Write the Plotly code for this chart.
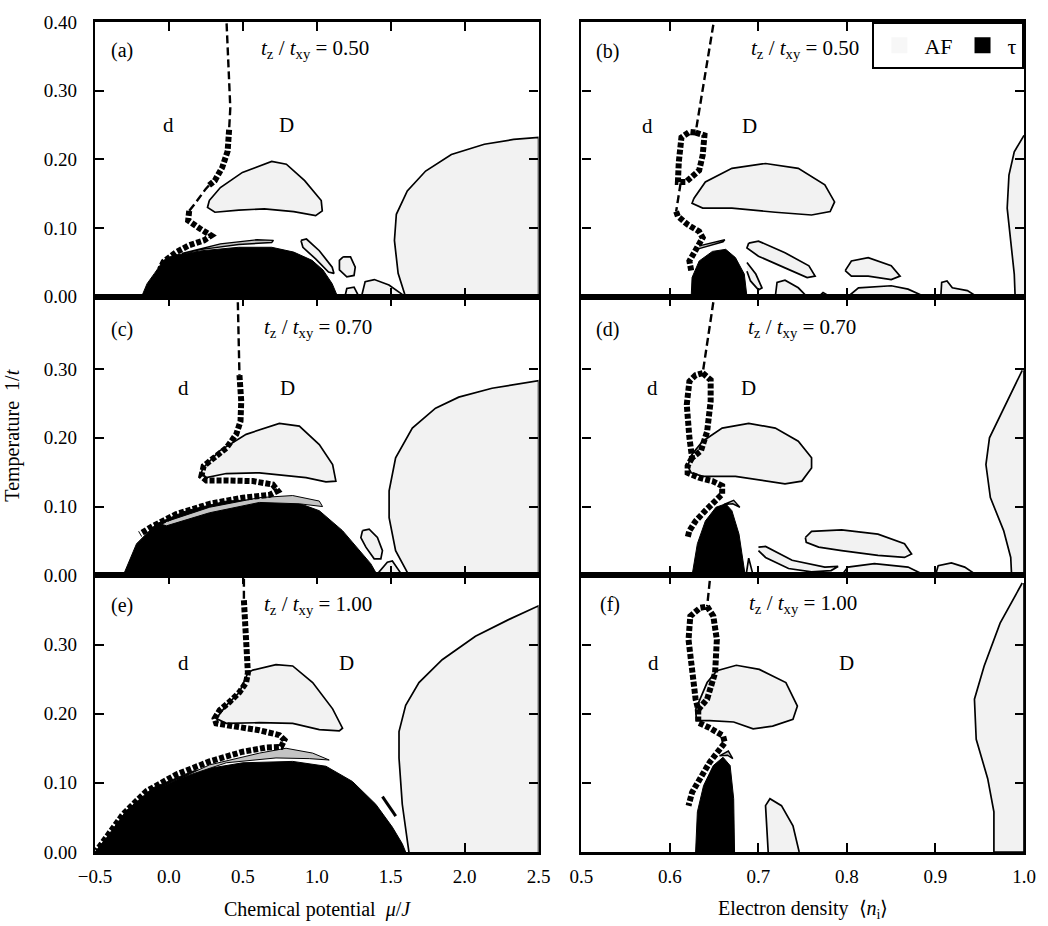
import plotly.graph_objects as go

# ---------------- tick values / labels ----------------
MU_TICKS = [-0.5, 0.0, 0.5, 1.0, 1.5, 2.0, 2.5]
MU_TICKTEXT = ["\u22120.5", "0.0", "0.5", "1.0", "1.5", "2.0", "2.5"]
N_TICKS = [0.5, 0.6, 0.7, 0.8, 0.9, 1.0]
N_TICKTEXT = ["0.5", "0.6", "0.7", "0.8", "0.9", "1.0"]
T_TICKS_TOP = [0.0, 0.1, 0.2, 0.3, 0.4]
T_TICKS = [0.0, 0.1, 0.2, 0.3]
PANEL_LETTERS = ["(a)", "(b)", "(c)", "(d)", "(e)", "(f)"]
RATIOS = ["0.50", "0.50", "0.70", "0.70", "1.00", "1.00"]

# ---------------- panel (a): mu axis, tz/txy = 0.50 ----------------
a_dash1_x = [0.39, 0.402, 0.415, 0.407]
a_dash1_y = [0.398, 0.347, 0.275, 0.243]
a_dot1_x = [0.407, 0.397, 0.36, 0.31, 0.27]
a_dot1_y = [0.243, 0.212, 0.188, 0.169, 0.162]
a_dash2_x = [0.27, 0.249, 0.174, 0.137]
a_dash2_y = [0.162, 0.157, 0.135, 0.125]
a_dot2_x = [0.137, 0.13, 0.211, 0.286, 0.236, 0.137, 0.05, -0.036, -0.06]
a_dot2_y = [0.125, 0.111, 0.099, 0.089, 0.082, 0.075, 0.065, 0.051, 0.04]
a_tau_x = [-0.185, -0.148, -0.098, -0.036, 0.026, 0.224, 0.472, 0.695, 0.844, 0.968, 1.042, 1.104, 1.141]
a_tau_y = [0, 0.019, 0.034, 0.053, 0.06, 0.067, 0.072, 0.072, 0.065, 0.053, 0.039, 0.019, 0]
a_sliver_x = [0.088, 0.348, 0.596, 0.707, 0.695, 0.472, 0.224, 0.088]
a_sliver_y = [0.063, 0.077, 0.083, 0.082, 0.079, 0.076, 0.069, 0.063]
a_isl1_x = [0.273, 0.348, 0.497, 0.695, 0.794, 0.918, 1.03, 1.037, 0.992, 0.844, 0.645, 0.472, 0.311, 0.261, 0.273]
a_isl1_y = [0.14, 0.159, 0.181, 0.197, 0.193, 0.169, 0.14, 0.125, 0.118, 0.124, 0.128, 0.126, 0.123, 0.13, 0.14]
a_isl2_x = [0.893, 0.93, 1.017, 1.104, 1.116, 1.079, 0.992, 0.906, 0.893]
a_isl2_y = [0.082, 0.084, 0.067, 0.043, 0.034, 0.036, 0.055, 0.072, 0.082]
a_isl3_x = [1.178, 1.228, 1.26, 1.252, 1.203, 1.153, 1.153, 1.178]
a_isl3_y = [0.058, 0.058, 0.043, 0.031, 0.029, 0.039, 0.053, 0.058]
a_isl4_x = [1.19, 1.203, 1.252, 1.285]
a_isl4_y = [0, 0.012, 0.014, 0]
a_isl5_x = [1.302, 1.327, 1.389, 1.488, 1.587, 1.6]
a_isl5_y = [0, 0.022, 0.025, 0.017, 0.002, 0]
a_big_x = [1.6, 1.55, 1.525, 1.538, 1.612, 1.736, 1.91, 2.133, 2.331, 2.5, 2.5]
a_big_y = [0, 0.034, 0.082, 0.12, 0.154, 0.183, 0.207, 0.222, 0.229, 0.232, 0]

# ---------------- panel (b): density axis, tz/txy = 0.50 ----------------
b_dash1_x = [0.649, 0.629]
b_dash1_y = [0.396, 0.239]
b_loop_x = [0.629, 0.639, 0.637, 0.633, 0.618, 0.609, 0.61, 0.613, 0.622, 0.629]
b_loop_y = [0.239, 0.235, 0.206, 0.184, 0.167, 0.167, 0.196, 0.232, 0.24, 0.239]
b_dash2_x = [0.612, 0.607]
b_dash2_y = [0.165, 0.124]
b_dot2_x = [0.607, 0.609, 0.62, 0.633, 0.637, 0.633, 0.627, 0.622, 0.624]
b_dot2_y = [0.124, 0.117, 0.105, 0.095, 0.086, 0.076, 0.062, 0.052, 0.038]
b_tau_x = [0.624, 0.625, 0.633, 0.648, 0.663, 0.674, 0.684, 0.687]
b_tau_y = [0, 0.028, 0.052, 0.066, 0.069, 0.057, 0.033, 0]
b_sliver_x = [0.633, 0.652, 0.662, 0.66, 0.645, 0.633]
b_sliver_y = [0.074, 0.08, 0.083, 0.08, 0.074, 0.07]
b_isl1_x = [0.627, 0.64, 0.67, 0.708, 0.745, 0.775, 0.786, 0.781, 0.76, 0.719, 0.67, 0.637, 0.625, 0.627]
b_isl1_y = [0.143, 0.167, 0.187, 0.194, 0.187, 0.163, 0.138, 0.124, 0.119, 0.123, 0.129, 0.129, 0.136, 0.143]
b_isl2_x = [0.689, 0.7, 0.73, 0.757, 0.764, 0.755, 0.73, 0.7, 0.687, 0.689]
b_isl2_y = [0.078, 0.081, 0.064, 0.045, 0.03, 0.028, 0.042, 0.059, 0.071, 0.078]
b_isl3_x = [0.687, 0.697, 0.704, 0.7, 0.691, 0.687]
b_isl3_y = [0.05, 0.033, 0.013, 0.01, 0.023, 0.037]
b_isl4_x = [0.719, 0.721, 0.73, 0.745, 0.755]
b_isl4_y = [0, 0.021, 0.024, 0.013, 0]
b_isl5_x = [0.768, 0.773, 0.781]
b_isl5_y = [0, 0.006, 0]
b_isl6_x = [0.798, 0.805, 0.824, 0.85, 0.86, 0.85, 0.824, 0.805, 0.798]
b_isl6_y = [0.038, 0.052, 0.057, 0.045, 0.03, 0.025, 0.03, 0.03, 0.038]
b_isl7_x = [0.801, 0.813, 0.85, 0.869, 0.888]
b_isl7_y = [0, 0.013, 0.016, 0.011, 0]
b_isl8_x = [0.906, 0.907, 0.913, 0.919, 0.936, 0.947]
b_isl8_y = [0, 0.021, 0.023, 0.013, 0.009, 0]
b_edge_x = [1.0, 0.989, 0.983, 0.981, 0.985, 0.989, 0.99, 1.0]
b_edge_y = [0.235, 0.211, 0.177, 0.129, 0.081, 0.033, 0, 0]

# ---------------- panel (c): mu axis, tz/txy = 0.70 ----------------
c_dash1_x = [0.466, 0.477]
c_dash1_y = [0.397, 0.291]
c_dot1_x = [0.477, 0.489, 0.484, 0.455, 0.388, 0.298, 0.235, 0.219, 0.253, 0.388, 0.567, 0.702, 0.736, 0.68, 0.5, 0.275, 0.05, -0.107, -0.197]
c_dot1_y = [0.291, 0.253, 0.224, 0.205, 0.185, 0.171, 0.159, 0.144, 0.138, 0.138, 0.137, 0.132, 0.123, 0.117, 0.113, 0.104, 0.089, 0.072, 0.06]
c_tau_x = [-0.309, -0.219, -0.084, 0.118, 0.388, 0.657, 0.837, 1.017, 1.174, 1.286, 1.365, 1.41]
c_tau_y = [0, 0.046, 0.075, 0.094, 0.108, 0.111, 0.108, 0.094, 0.065, 0.036, 0.017, 0]
c_sliver_x = [-0.062, 0.275, 0.612, 0.837, 1.017, 1.039, 0.882, 0.612, 0.275, -0.017, -0.062]
c_sliver_y = [0.075, 0.099, 0.113, 0.116, 0.108, 0.1, 0.104, 0.106, 0.091, 0.072, 0.075]
c_isl1_x = [0.23, 0.343, 0.522, 0.747, 0.882, 1.017, 1.107, 1.129, 1.062, 0.927, 0.612, 0.388, 0.253, 0.219, 0.23]
c_isl1_y = [0.156, 0.181, 0.205, 0.221, 0.217, 0.19, 0.161, 0.137, 0.136, 0.142, 0.149, 0.148, 0.142, 0.149, 0.156]
c_isl2_x = [1.309, 1.354, 1.41, 1.444, 1.433, 1.388, 1.332, 1.298, 1.309]
c_isl2_y = [0.065, 0.067, 0.055, 0.036, 0.024, 0.024, 0.041, 0.055, 0.065]
c_isl3_x = [1.41, 1.421, 1.477, 1.511, 1.578]
c_isl3_y = [0, 0.005, 0.019, 0.021, 0]
c_big_x = [1.623, 1.533, 1.489, 1.489, 1.533, 1.646, 1.803, 1.96, 2.185, 2.5, 2.5]
c_big_y = [0, 0.036, 0.084, 0.123, 0.171, 0.214, 0.243, 0.259, 0.272, 0.283, 0]

# ---------------- panel (d): density axis, tz/txy = 0.70 ----------------
d_dash1_x = [0.649, 0.637]
d_dash1_y = [0.397, 0.294]
d_loop_x = [0.637, 0.646, 0.646, 0.642, 0.635, 0.625, 0.622, 0.619, 0.622, 0.629, 0.637]
d_loop_y = [0.294, 0.284, 0.253, 0.209, 0.181, 0.171, 0.2, 0.248, 0.282, 0.291, 0.294]
d_dot2_x = [0.625, 0.62, 0.62, 0.633, 0.648, 0.659, 0.659, 0.652, 0.64, 0.629, 0.622, 0.62]
d_dot2_y = [0.171, 0.159, 0.149, 0.142, 0.137, 0.13, 0.118, 0.108, 0.094, 0.079, 0.065, 0.055]
d_tau_x = [0.625, 0.631, 0.64, 0.652, 0.663, 0.67, 0.678, 0.685]
d_tau_y = [0, 0.046, 0.079, 0.099, 0.104, 0.094, 0.06, 0]
d_hook_x = [0.661, 0.672, 0.679, 0.671, 0.661]
d_hook_y = [0.103, 0.109, 0.099, 0.104, 0.103]
d_isl1_x = [0.62, 0.625, 0.637, 0.659, 0.689, 0.719, 0.745, 0.76, 0.76, 0.749, 0.73, 0.708, 0.674, 0.637, 0.624, 0.62]
d_isl1_y = [0.159, 0.176, 0.195, 0.214, 0.221, 0.214, 0.195, 0.171, 0.156, 0.137, 0.133, 0.137, 0.144, 0.144, 0.149, 0.159]
d_isl2_x = [0.753, 0.76, 0.794, 0.835, 0.865, 0.873, 0.865, 0.835, 0.794, 0.768, 0.754, 0.753]
d_isl2_y = [0.055, 0.064, 0.066, 0.06, 0.046, 0.031, 0.026, 0.029, 0.036, 0.041, 0.048, 0.055]
d_isl3_x = [0.7, 0.708, 0.738, 0.775, 0.79, 0.782, 0.76, 0.734, 0.708, 0.7]
d_isl3_y = [0.041, 0.042, 0.022, 0.012, 0.013, 0.007, 0.005, 0.01, 0.026, 0.036]
d_isl4_x = [0.794, 0.801, 0.831, 0.869, 0.888]
d_isl4_y = [0, 0.012, 0.017, 0.012, 0]
d_isl5_x = [0.9, 0.903, 0.918, 0.933, 0.947]
d_isl5_y = [0, 0.014, 0.018, 0.012, 0]
d_isl6_x = [0.686, 0.689, 0.694]
d_isl6_y = [0, 0.025, 0]
d_edge_x = [0.998, 0.977, 0.961, 0.957, 0.962, 0.977, 0.985, 0.986, 1.0, 1.0]
d_edge_y = [0.298, 0.243, 0.2, 0.161, 0.113, 0.065, 0.026, 0, 0, 0.298]

# ---------------- panel (e): mu axis, tz/txy = 1.00 ----------------
e_dash1_x = [0.507, 0.507]
e_dash1_y = [0.395, 0.364]
e_dot1_x = [0.507, 0.522, 0.534, 0.522, 0.477, 0.41, 0.343, 0.309, 0.32, 0.432, 0.612, 0.747, 0.781, 0.758, 0.657, 0.5, 0.275, 0.05, -0.152, -0.309, -0.421, -0.489]
e_dot1_y = [0.364, 0.307, 0.259, 0.245, 0.231, 0.217, 0.205, 0.193, 0.186, 0.182, 0.176, 0.169, 0.162, 0.152, 0.151, 0.145, 0.131, 0.112, 0.088, 0.055, 0.021, 0.002]
e_tau_x = [-0.5, -0.421, -0.287, -0.107, 0.163, 0.5, 0.837, 1.062, 1.241, 1.399, 1.511, 1.578, 1.601]
e_tau_y = [0, 0.021, 0.06, 0.093, 0.117, 0.129, 0.131, 0.124, 0.102, 0.069, 0.036, 0.012, 0]
e_sliver_x = [-0.062, 0.275, 0.612, 0.792, 0.972, 1.084, 0.949, 0.724, 0.388, 0.05, -0.062]
e_sliver_y = [0.093, 0.126, 0.143, 0.15, 0.143, 0.133, 0.135, 0.136, 0.129, 0.105, 0.093]
e_line_x = [1.444, 1.534]
e_line_y = [0.08, 0.052]
e_isl1_x = [0.32, 0.388, 0.477, 0.534, 0.567, 0.724, 0.837, 0.972, 1.107, 1.174, 1.152, 1.017, 0.837, 0.612, 0.388, 0.32]
e_isl1_y = [0.193, 0.212, 0.231, 0.259, 0.263, 0.271, 0.269, 0.245, 0.207, 0.179, 0.175, 0.177, 0.186, 0.187, 0.186, 0.193]
e_big_x = [1.623, 1.578, 1.556, 1.556, 1.601, 1.691, 1.848, 2.073, 2.297, 2.5, 2.5]
e_big_y = [0, 0.069, 0.136, 0.174, 0.212, 0.245, 0.278, 0.312, 0.336, 0.356, 0]

# ---------------- panel (f): density axis, tz/txy = 1.00 ----------------
f_dash1_x = [0.645, 0.642]
f_dash1_y = [0.392, 0.355]
f_loop_x = [0.642, 0.649, 0.653, 0.651, 0.642, 0.632, 0.629, 0.625, 0.621, 0.623, 0.634, 0.642]
f_loop_y = [0.355, 0.341, 0.307, 0.259, 0.221, 0.206, 0.221, 0.259, 0.307, 0.341, 0.353, 0.355]
f_dot2_x = [0.632, 0.632, 0.644, 0.66, 0.662, 0.657, 0.645, 0.634, 0.625, 0.621]
f_dot2_y = [0.206, 0.187, 0.18, 0.168, 0.158, 0.149, 0.13, 0.106, 0.086, 0.067]
f_tau_x = [0.629, 0.631, 0.638, 0.649, 0.66, 0.668, 0.672, 0.673]
f_tau_y = [0, 0.058, 0.096, 0.125, 0.137, 0.125, 0.077, 0]
f_hook_x = [0.656, 0.666, 0.671, 0.665, 0.656]
f_hook_y = [0.139, 0.146, 0.135, 0.14, 0.139]
f_isl1_x = [0.629, 0.642, 0.653, 0.675, 0.701, 0.731, 0.744, 0.739, 0.716, 0.694, 0.672, 0.645, 0.63, 0.629]
f_isl1_y = [0.206, 0.245, 0.262, 0.27, 0.264, 0.245, 0.211, 0.192, 0.182, 0.178, 0.188, 0.19, 0.19, 0.206]
f_isl2_x = [0.711, 0.708, 0.713, 0.726, 0.739, 0.746]
f_isl2_y = [0, 0.067, 0.077, 0.067, 0.038, 0]
f_edge_x = [0.998, 0.973, 0.955, 0.944, 0.946, 0.959, 0.966, 0.966, 1.0, 1.0]
f_edge_y = [0.389, 0.331, 0.269, 0.221, 0.163, 0.106, 0.058, 0, 0, 0.389]

# text positions (data coords) of labels in each panel: letter, ratio, d, D
LETTER_POS = [(-0.32, 0.359), (0.53, 0.357), (-0.32, 0.358), (0.53, 0.358), (-0.32, 0.357), (0.532, 0.358)]
RATIO_POS = [(0.99, 0.361), (0.753, 0.36), (1.005, 0.359), (0.749, 0.359), (1.005, 0.357), (0.75, 0.358)]
SMALL_D_POS = [(-0.004, 0.25), (0.575, 0.249), (0.1, 0.272), (0.58, 0.272), (0.1, 0.274), (0.581, 0.274)]
BIG_D_POS = [(0.794, 0.25), (0.69, 0.249), (0.803, 0.272), (0.689, 0.272), (1.2, 0.274), (0.799, 0.274)]

# ---------------- style ----------------
FONT = "Liberation Serif"
AF_FILL = "#f2f2f2"
SLIVER_FILL = "#c4c4c4"

fig = go.Figure()


def ax(i):
    return ("x" if i == 1 else f"x{i}"), ("y" if i == 1 else f"y{i}")


def af(i, xs, ys, fill=AF_FILL, lw=1.7):
    xa, ya = ax(i)
    fig.add_trace(go.Scatter(x=xs, y=ys, xaxis=xa, yaxis=ya, mode="lines", fill="toself",
                             fillcolor=fill, line=dict(color="black", width=lw),
                             showlegend=False, hoverinfo="skip"))


def tau(i, xs, ys):
    xa, ya = ax(i)
    fig.add_trace(go.Scatter(x=xs, y=ys, xaxis=xa, yaxis=ya, mode="lines", fill="toself",
                             fillcolor="black", line=dict(color="black", width=1),
                             showlegend=False, hoverinfo="skip"))


def dashed(i, xs, ys):
    xa, ya = ax(i)
    fig.add_trace(go.Scatter(x=xs, y=ys, xaxis=xa, yaxis=ya, mode="lines",
                             line=dict(color="black", width=2.4, dash="8px,4px"),
                             showlegend=False, hoverinfo="skip"))


def dotted(i, xs, ys):
    xa, ya = ax(i)
    fig.add_trace(go.Scatter(x=xs, y=ys, xaxis=xa, yaxis=ya, mode="lines",
                             line=dict(color="black", width=6, dash="5px,2px"),
                             showlegend=False, hoverinfo="skip"))


def thin(i, xs, ys, w=3):
    xa, ya = ax(i)
    fig.add_trace(go.Scatter(x=xs, y=ys, xaxis=xa, yaxis=ya, mode="lines",
                             line=dict(color="black", width=w),
                             showlegend=False, hoverinfo="skip"))


# (a)
af(1, a_big_x, a_big_y)
for xs, ys in [(a_isl1_x, a_isl1_y), (a_isl2_x, a_isl2_y), (a_isl3_x, a_isl3_y),
               (a_isl4_x, a_isl4_y), (a_isl5_x, a_isl5_y)]:
    af(1, xs, ys)
tau(1, a_tau_x, a_tau_y)
af(1, a_sliver_x, a_sliver_y, SLIVER_FILL, 1.4)
dashed(1, a_dash1_x, a_dash1_y)
dotted(1, a_dot1_x, a_dot1_y)
dashed(1, a_dash2_x, a_dash2_y)
dotted(1, a_dot2_x, a_dot2_y)

# (b)
af(2, b_edge_x, b_edge_y)
for xs, ys in [(b_isl1_x, b_isl1_y), (b_isl2_x, b_isl2_y), (b_isl3_x, b_isl3_y),
               (b_isl4_x, b_isl4_y), (b_isl5_x, b_isl5_y), (b_isl6_x, b_isl6_y),
               (b_isl7_x, b_isl7_y), (b_isl8_x, b_isl8_y)]:
    af(2, xs, ys)
tau(2, b_tau_x, b_tau_y)
af(2, b_sliver_x, b_sliver_y, SLIVER_FILL, 1.4)
dashed(2, b_dash1_x, b_dash1_y)
dotted(2, b_loop_x, b_loop_y)
dashed(2, b_dash2_x, b_dash2_y)
dotted(2, b_dot2_x, b_dot2_y)

# (c)
af(3, c_big_x, c_big_y)
for xs, ys in [(c_isl1_x, c_isl1_y), (c_isl2_x, c_isl2_y), (c_isl3_x, c_isl3_y)]:
    af(3, xs, ys)
tau(3, c_tau_x, c_tau_y)
af(3, c_sliver_x, c_sliver_y, SLIVER_FILL, 1.0)
dashed(3, c_dash1_x, c_dash1_y)
dotted(3, c_dot1_x, c_dot1_y)

# (d)
af(4, d_edge_x, d_edge_y)
for xs, ys in [(d_isl1_x, d_isl1_y), (d_isl2_x, d_isl2_y), (d_isl3_x, d_isl3_y),
               (d_isl4_x, d_isl4_y), (d_isl5_x, d_isl5_y), (d_isl6_x, d_isl6_y)]:
    af(4, xs, ys)
tau(4, d_tau_x, d_tau_y)
af(4, d_hook_x, d_hook_y, SLIVER_FILL, 1.4)
dashed(4, d_dash1_x, d_dash1_y)
dotted(4, d_loop_x, d_loop_y)
dotted(4, d_dot2_x, d_dot2_y)

# (e)
af(5, e_big_x, e_big_y)
af(5, e_isl1_x, e_isl1_y)
tau(5, e_tau_x, e_tau_y)
af(5, e_sliver_x, e_sliver_y, SLIVER_FILL, 1.0)
thin(5, e_line_x, e_line_y, 3)
dashed(5, e_dash1_x, e_dash1_y)
dotted(5, e_dot1_x, e_dot1_y)

# (f)
af(6, f_edge_x, f_edge_y)
af(6, f_isl1_x, f_isl1_y)
af(6, f_isl2_x, f_isl2_y)
tau(6, f_tau_x, f_tau_y)
af(6, f_hook_x, f_hook_y, SLIVER_FILL, 1.4)
dashed(6, f_dash1_x, f_dash1_y)
dotted(6, f_loop_x, f_loop_y)
dotted(6, f_dot2_x, f_dot2_y)

# legend entries
fig.add_trace(go.Scatter(x=[None], y=[None], xaxis="x2", yaxis="y2", mode="markers", name="AF",
                         marker=dict(symbol="square", size=22, color="#f7f7f7",
                                     line=dict(width=0))))
fig.add_trace(go.Scatter(x=[None], y=[None], xaxis="x2", yaxis="y2", mode="markers", name="\u03c4",
                         marker=dict(symbol="square", size=22, color="black")))

# ---------------- axes ----------------
XDOM_L = [0.0, 0.4775]
XDOM_R = [0.5236, 1.0]
YDOMS = [[0.669, 1.0], [0.3333, 0.669], [0.0, 0.3333]]
YRANGES = [[0, 0.40], [0, 0.405], [0, 0.40]]

layout_axes = {}
for i in range(1, 7):
    row = (i - 1) // 2
    col = (i - 1) % 2
    xname = "xaxis" if i == 1 else f"xaxis{i}"
    yname = "yaxis" if i == 1 else f"yaxis{i}"
    xa, ya = ax(i)
    common = dict(showline=True, linecolor="black", mirror="ticks", ticks="inside",
                  ticklen=9, tickwidth=2.2, tickcolor="black", showgrid=False, zeroline=False,
                  tickfont=dict(family=FONT, size=19, color="black"))
    layout_axes[xname] = dict(
        domain=XDOM_L if col == 0 else XDOM_R,
        range=[-0.5, 2.5] if col == 0 else [0.5, 1.0],
        tickvals=MU_TICKS if col == 0 else N_TICKS,
        ticktext=MU_TICKTEXT if col == 0 else N_TICKTEXT,
        showticklabels=(row == 2), anchor=ya, linewidth=3.2,
        ticklabelstandoff=5, **common)
    layout_axes[yname] = dict(
        domain=YDOMS[row], range=YRANGES[row],
        tickvals=T_TICKS_TOP if row == 0 else T_TICKS,
        tickformat=".2f", showticklabels=(col == 0), anchor=xa, linewidth=2.4,
        ticklabelstandoff=12, **common)

annotations = []


def label(xa, ya, x, y, text, size):
    annotations.append(dict(x=x, y=y, xref=xa, yref=ya, text=text, showarrow=False,
                            xanchor="center", yanchor="middle",
                            font=dict(family=FONT, size=size, color="black")))


for i in range(1, 7):
    xa, ya = ax(i)
    label(xa, ya, *LETTER_POS[i - 1], PANEL_LETTERS[i - 1], 20)
    label(xa, ya, *RATIO_POS[i - 1],
          f"<i>t</i><sub>z</sub> / <i>t</i><sub>xy</sub> = {RATIOS[i - 1]}", 21)
    label(xa, ya, *SMALL_D_POS[i - 1], "d", 21)
    label(xa, ya, *BIG_D_POS[i - 1], "D", 21)

label("paper", "paper", 0.239, -0.069, "Chemical potential  <i>\u03bc</i>/<i>J</i>", 20)
label("paper", "paper", 0.762, -0.069, "Electron density  \u27e8<i>n</i><sub>i</sub>\u27e9", 20)
annotations.append(dict(x=-0.089, y=0.502, xref="paper", yref="paper", textangle=-90,
                        xanchor="center", yanchor="middle",
                        text="Temperature  1/<i>t</i>", showarrow=False,
                        font=dict(family=FONT, size=20, color="black")))

fig.update_layout(
    width=1048, height=926,
    margin=dict(l=95, r=21, t=12, b=74),
    paper_bgcolor="white", plot_bgcolor="white",
    annotations=annotations,
    showlegend=True,
    legend=dict(x=1.0, y=1.0, xanchor="right", yanchor="top", orientation="h",
                bordercolor="black", borderwidth=2.4, bgcolor="white",
                font=dict(family=FONT, size=22, color="black"),
                itemsizing="trace", itemwidth=40, tracegroupgap=0),
    **layout_axes,
)

fig.write_html("out.html", config={"displayModeBar": False},
               post_script="document.body.style.margin='0';document.body.style.padding='0';")
